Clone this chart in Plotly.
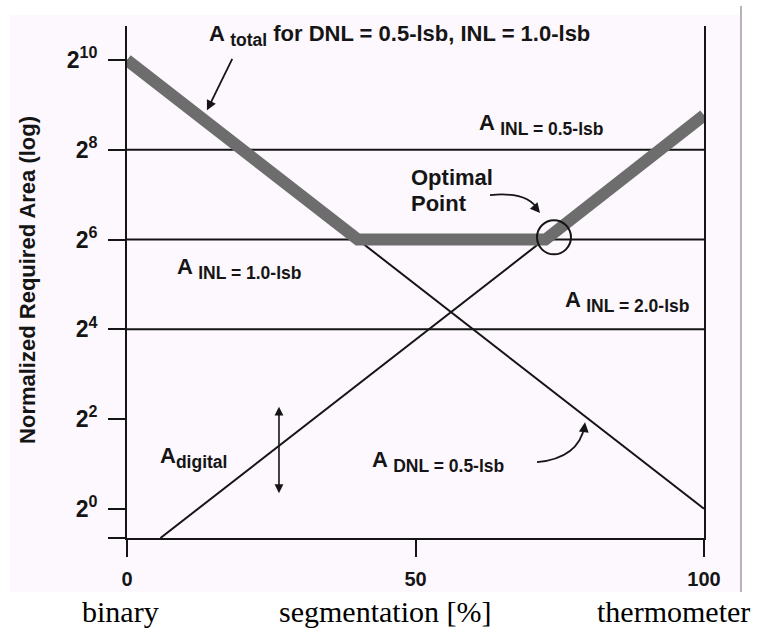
import plotly.graph_objects as go

# Segmentation [%] on x, log2 of the normalized required area on y
total_x = [0, 40, 72.5, 100]
total_y = [10, 6, 6, 8.77]

dnl_x = [0, 100]
dnl_y = [10, 0]

digital_x = [5.8, 100]
digital_y = [-0.65, 8.77]

inl_names = ["0.5-lsb", "1.0-lsb", "2.0-lsb"]
inl_y = [8, 6, 4]

optimal_x = [74.0]
optimal_y = [6.05]

x_ticks = [0, 50, 100]
x_tick_text = ["0", "50", "100"]
y_ticks = [-0.65, 0, 2, 4, 6, 8, 10]
y_tick_text = ["", "2<sup>0</sup>", "2<sup>2</sup>", "2<sup>4</sup>",
               "2<sup>6</sup>", "2<sup>8</sup>", "2<sup>10</sup>"]

SANS = "Liberation Sans, Arial, sans-serif"
SERIF = "Liberation Serif, Times New Roman, serif"
INK = "#151515"

fig = go.Figure()

# constant-INL area levels
for lvl in inl_y:
    fig.add_trace(go.Scatter(x=[0, 100], y=[lvl, lvl], mode="lines",
                             line=dict(color=INK, width=2), hoverinfo="skip"))

fig.add_trace(go.Scatter(x=dnl_x, y=dnl_y, mode="lines",
                         line=dict(color=INK, width=2), hoverinfo="skip"))
fig.add_trace(go.Scatter(x=digital_x, y=digital_y, mode="lines",
                         line=dict(color=INK, width=2), hoverinfo="skip"))
fig.add_trace(go.Scatter(x=total_x, y=total_y, mode="lines",
                         line=dict(color="#6d6d6d", width=12), hoverinfo="skip"))
fig.add_trace(go.Scatter(x=optimal_x, y=optimal_y, mode="markers",
                         marker=dict(symbol="circle-open", size=34, color=INK,
                                     line=dict(color=INK, width=2)),
                         hoverinfo="skip"))

SUB = "<sub><span style='font-size:17.5px'>{}</span></sub>"


def label(x, y, text, size=22):
    fig.add_annotation(x=x, y=y, xref="x", yref="y", text=text, showarrow=False,
                       xanchor="left", yanchor="middle",
                       font=dict(family=SANS, size=size, color=INK, weight="bold"))


label(13.9, 10.55, "A " + SUB.format("total") + " for DNL = 0.5-lsb, INL = 1.0-lsb")
label(60.66, 8.57, "A " + SUB.format("INL = " + inl_names[0]))
label(8.32, 5.36, "A " + SUB.format("INL = " + inl_names[1]))
label(75.56, 4.61, "A " + SUB.format("INL = " + inl_names[2]))
label(5.37, 1.15, "A" + SUB.format("digital"))
label(42.1, 1.06, "A " + SUB.format("DNL = 0.5-lsb"))
label(48.9, 7.39, "Optimal")
label(48.9, 6.81, "Point")

# pointer from the title to the thick total-area curve
fig.add_annotation(x=13.86, y=8.88, ax=18.37, ay=10.06, xref="x", yref="y",
                   axref="x", ayref="y", text="", showarrow=True,
                   arrowhead=2, arrowsize=1.1, arrowwidth=1.8, arrowcolor=INK)
# double arrow next to A_digital
fig.add_annotation(x=26.34, y=0.35, ax=26.34, ay=2.31, xref="x", yref="y",
                   axref="x", ayref="y", text="", showarrow=True,
                   arrowhead=2, arrowsize=1.1, arrowwidth=1.6, arrowcolor=INK,
                   arrowside="end+start")
# heads of the two curved pointers
fig.add_annotation(x=71.58, y=6.59, ax=-5, ay=-6, xref="x", yref="y",
                   text="", showarrow=True, arrowhead=2, arrowsize=1.1,
                   arrowwidth=1.8, arrowcolor=INK)
fig.add_annotation(x=79.38, y=1.93, ax=-1, ay=8, xref="x", yref="y",
                   text="", showarrow=True, arrowhead=2, arrowsize=1.1,
                   arrowwidth=1.8, arrowcolor=INK)

shapes = [
    # tinted figure panel and its right border
    dict(type="rect", xref="paper", yref="paper", x0=-0.2028, x1=1.0641,
         y0=-0.1055, y1=1.0215, fillcolor="#fdf8fd", line=dict(width=0),
         layer="below"),
    dict(type="line", xref="paper", yref="paper", x0=1.0641, x1=1.0641,
         y0=-0.1055, y1=1.039, line=dict(color="#b4b4b4", width=2)),
    # curved pointers
    dict(type="path", xref="x", yref="y",
         path="M 62.91,6.99 Q 69.5,7.08 71.3,6.65",
         line=dict(color=INK, width=1.8)),
    dict(type="path", xref="x", yref="y",
         path="M 71.06,1.04 Q 78.3,1.13 79.3,1.85",
         line=dict(color=INK, width=1.8)),
]

# rotated axis title and the caption underneath
annotations = [
    dict(x=-0.1716, y=0.504, text="Normalized Required Area (log)", textangle=-90,
         font=dict(family=SANS, size=22, color=INK, weight="bold")),
    dict(x=-0.0121, y=-0.1445, text="binary",
         font=dict(family=SERIF, size=30, color="#000")),
    dict(x=0.447, y=-0.1445, text="segmentation [%]",
         font=dict(family=SERIF, size=30, color="#000")),
    dict(x=0.9463, y=-0.1445, text="thermometer",
         font=dict(family=SERIF, size=30, color="#000")),
]
for a in annotations:
    fig.add_annotation(xref="paper", yref="paper", showarrow=False,
                       xanchor="center", yanchor="middle", **a)

fig.update_layout(
    width=776, height=632,
    margin=dict(l=127, r=72, t=26, b=94),
    paper_bgcolor="white", plot_bgcolor="rgba(0,0,0,0)",
    showlegend=False, shapes=shapes,
    xaxis=dict(range=[0, 100], tickvals=x_ticks, ticktext=x_tick_text,
               showgrid=False, zeroline=False, showline=True, linecolor=INK,
               linewidth=2, ticks="outside", ticklen=17, tickwidth=2,
               tickcolor=INK, fixedrange=True, ticklabelstandoff=5,
               tickfont=dict(family=SANS, size=20, color=INK, weight="bold")),
    yaxis=dict(range=[-0.65, 10.76], tickvals=y_ticks, ticktext=y_tick_text,
               showgrid=False, zeroline=False, showline=True, linecolor=INK,
               linewidth=2, mirror=True, ticks="outside", ticklen=17,
               tickwidth=2, tickcolor=INK, fixedrange=True, ticklabelstandoff=6,
               tickfont=dict(family=SANS, size=23, color=INK, weight="bold")),
)

fig.write_html("out.html")
